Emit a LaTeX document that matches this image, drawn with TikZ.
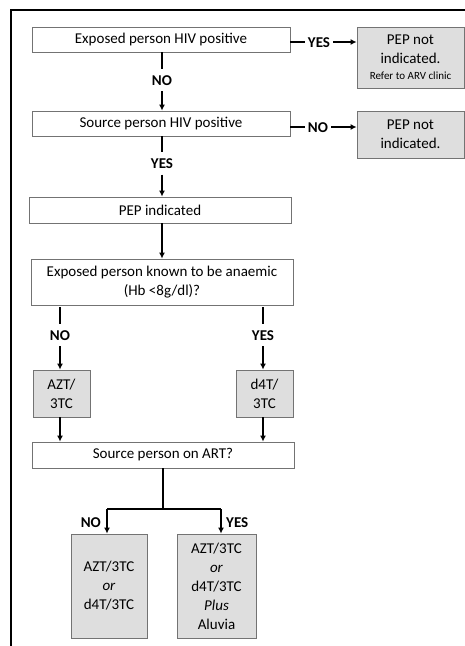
\documentclass[tikz,border=0pt]{standalone}
\usepackage{fontspec}
\setmainfont{Carlito}
\usetikzlibrary{arrows.meta}

\begin{document}
\begin{tikzpicture}[x = 1pt, y = -1pt,
  every node/.style = {font = \fontsize{15}{19}\selectfont, align = center},
  whitebox/.style = {draw = black!55, line width = 0.8pt, fill = white, inner sep = 0pt},
  graybox/.style = {draw = black!55, line width = 0.8pt, fill = black!13, inner sep = 0pt},
  answer/.style = {font = \fontsize{15}{19}\selectfont\bfseries, inner xsep = 3pt, inner ysep = 6pt, text height = 10pt, text depth = 0pt},
  link/.style = {line width = 1.6pt},
  arrow/.style = {line width = 1.6pt, -{Latex[length = 6pt, width = 6pt]}}]

  % Fix the page size and draw the frame
  \useasboundingbox (0,0) rectangle (465,646);
  \draw[line width = 1.6pt] (11,646) -- (11,10) -- (465,10);

  % Draw the boxes
  \node[whitebox, minimum width = 258pt, minimum height = 25pt] (exposed) at (161,39.5) {Exposed person HIV positive};
  \node[whitebox, minimum width = 258pt, minimum height = 25pt] (source) at (161,123.5) {Source person HIV positive};
  \node[graybox, minimum width = 107pt, minimum height = 61pt] (notind1) at (410.5,57.5)
    {PEP not\\indicated.\\[-3pt]{\fontsize{11}{13}\selectfont Refer to ARV clinic}};
  \node[graybox, minimum width = 107pt, minimum height = 47pt] (notind2) at (410.5,134.5) {PEP not\\indicated.};
  \node[whitebox, minimum width = 262pt, minimum height = 26pt] (pep) at (160,210) {PEP indicated};
  \node[whitebox, minimum width = 262pt, minimum height = 46pt] (anaemic) at (162,282)
    {Exposed person known to be anaemic\\(Hb <8g/dl)?};
  \node[graybox, minimum width = 57pt, minimum height = 47pt] (azt) at (61.5,393.5) {AZT/\\3TC};
  \node[graybox, minimum width = 57pt, minimum height = 47pt] (dft) at (264.5,393.5) {d4T/\\3TC};
  \node[whitebox, minimum width = 262pt, minimum height = 26pt] (art) at (163,455) {Source person on ART?};
  \node[graybox, minimum width = 76pt, minimum height = 104pt] (regno) at (109,586)
    {AZT/3TC\\\textit{or}\\d4T/3TC};
  \node[graybox, minimum width = 79pt, minimum height = 104pt] (regyes) at (216.5,586)
    {AZT/3TC\\\textit{or}\\d4T/3TC\\\textit{Plus}\\Aluvia};

  % Answers
  \node[answer] (no1) at (162,80) {NO};
  \node[answer] (yes1) at (319,42) {YES};
  \node[answer] (yes2) at (162,163.5) {YES};
  \node[answer] (no2) at (318,127) {NO};
  \node[answer] (no3) at (60,335) {NO};
  \node[answer] (yes3) at (263,335) {YES};
  \node[answer, anchor = east] (no4) at (104,522) {NO};
  \node[answer, anchor = west] (yes4) at (223,522) {YES};

  % Define points for the fork
  \coordinate (fork) at (163,509);
  \coordinate (forkL) at (107,509);
  \coordinate (forkR) at (221,509);

  % Draw the connectors
  \draw[link] (exposed.south -| no1) -- (no1.north);
  \draw[arrow] (no1.south) -- (source.north -| no1);
  \draw[link] (exposed.east |- yes1) -- (yes1.west);
  \draw[arrow] (yes1.east) -- (notind1.west |- yes1);
  \draw[link] (source.east |- no2) -- (no2.west);
  \draw[arrow] (no2.east) -- (notind2.west |- no2);
  \draw[link] (source.south -| yes2) -- (yes2.north);
  \draw[arrow] (yes2.south) -- (pep.north -| yes2);
  \draw[arrow] (pep.south -| yes2) -- (anaemic.north -| yes2);
  \draw[link] ([yshift = -2pt]anaemic.south -| no3) -- (no3.north);
  \draw[arrow] (no3.south) -- (azt.north -| no3);
  \draw[link] ([yshift = -2pt]anaemic.south -| yes3) -- (yes3.north);
  \draw[arrow] (yes3.south) -- (dft.north -| yes3);
  \draw[arrow] (azt.south -| no3) -- (art.north -| no3);
  \draw[arrow] (dft.south -| yes3) -- (art.north -| yes3);
  \draw[link] (art.south -| fork) -- (fork);
  \draw[link] (forkL) -- (forkR);
  \draw[arrow] (forkL) -- (regno.north -| forkL);
  \draw[arrow] (forkR) -- (regyes.north -| forkR);

\end{tikzpicture}
\end{document}
